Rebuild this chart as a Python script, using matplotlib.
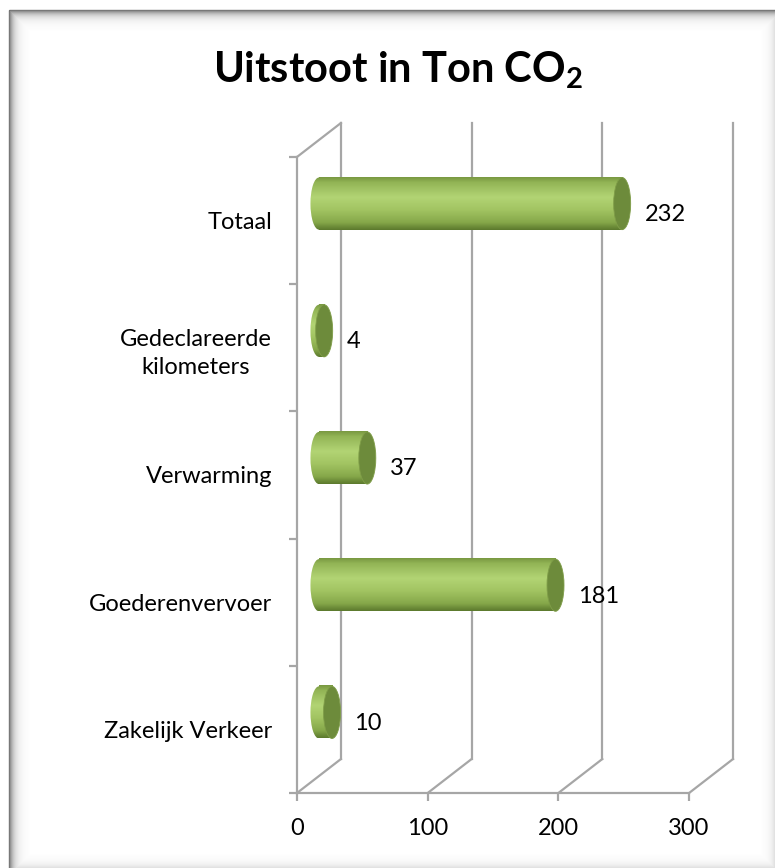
import matplotlib
matplotlib.use("Agg")
import matplotlib.pyplot as plt
import numpy as np
from matplotlib.patches import Ellipse, Rectangle
from matplotlib.colors import to_rgb

plt.rcParams['font.family'] = ['Lato', 'DejaVu Sans']
plt.rcParams['mathtext.default'] = 'regular'

# data
categories = ['Zakelijk Verkeer', 'Goederenvervoer', 'Verwarming',
              'Gedeclareerde\nkilometers', 'Totaal']
values = [10, 181, 37, 4, 232]
xticks = [0, 100, 200, 300]
title = 'Uitstoot in Ton CO$_2$'

# 3d look: depth offset of the back wall in data units
dx = 33.6
dy = 0.267
bar_half = 0.205
cap = 6.5
grid_col = '#a6a6a6'
fs = 17

fig = plt.figure(figsize=(7.75, 8.68), dpi=100)

# frame with inner shadow
bg = fig.add_axes([0, 0, 1, 1], zorder=0)
bg.set_xlim(0, 775)
bg.set_ylim(868, 0)
bg.axis('off')
for k in range(20):
    t = np.exp(-k / 4.5)
    g = 1 - 0.55 * t
    bg.add_patch(Rectangle((9 + k, 10 + k), 772 - 2 * k, 864 - 2 * k,
                           fill=False, edgecolor=(g, g, g), lw=1.0))

ax = fig.add_axes([297 / 775, 75 / 868, 436 / 775, 670 / 868], zorder=1)
ax.patch.set_alpha(0)
for s in ax.spines.values():
    s.set_visible(False)

ytop = 4.5
ybot = -0.5
lkw = dict(color=grid_col, lw=1.6, clip_on=False, zorder=1)
# front left axis + diagonals
ax.plot([0, 0], [ybot, ytop], **lkw)
ax.plot([0, dx], [ytop, ytop + dy], **lkw)
ax.plot([0, xticks[-1]], [ybot, ybot], **lkw)
for v in xticks:
    ax.plot([v, v + dx], [ybot, ybot + dy], **lkw)
    ax.plot([v + dx, v + dx], [ybot + dy, ytop + dy], **lkw)


def ramp(stops, n=64):
    pos = [p for p, c in stops]
    cols = np.array([to_rgb(c) for p, c in stops])
    t = np.linspace(0, 1, n)
    out = np.stack([np.interp(t, pos, cols[:, i]) for i in range(3)], axis=-1)
    return out.reshape(n, 1, 3)


body = ramp([(0.0, '#7a9a42'), (0.1, '#93b556'), (0.38, '#b2d474'),
             (0.62, '#a2c462'), (0.86, '#86a84a'), (1.0, '#5d7a2e')])

for i, v in enumerate(values):
    yc = i + dy / 2
    x0 = dx / 2
    x1 = x0 + v
    y0, y1 = yc - bar_half, yc + bar_half
    # left rounded end
    im = ax.imshow(body, extent=[x0 - cap, x0 + 0.01, y0, y1], aspect='auto',
                   origin='upper', zorder=3, interpolation='bilinear')
    el = Ellipse((x0, yc), 2 * cap, 2 * bar_half, transform=ax.transData)
    im.set_clip_path(el)
    # body
    ax.imshow(body, extent=[x0, x1, y0, y1], aspect='auto', origin='upper',
              zorder=3, interpolation='bilinear')
    # right cap
    ax.add_patch(Ellipse((x1, yc), 2 * cap, 2 * bar_half, facecolor='#6d8b3b',
                         edgecolor='#7f9d48', lw=0.6, zorder=4))
    ax.text(x1 + 17, yc - 0.085, str(v), ha='left', va='center', fontsize=fs)

ax.set_xlim(0, xticks[-1] + dx)
ax.set_ylim(ybot, ytop + dy)

ax.set_xticks(xticks)
ax.tick_params(axis='x', direction='out', length=6, width=1.6,
               color=grid_col, pad=12, labelsize=fs)
ax.set_yticks(range(len(categories)), categories)
ax.set_yticks(np.arange(-0.5, len(categories)), minor=True)
ax.tick_params(axis='y', which='major', length=0, pad=18, labelsize=fs)
ax.tick_params(axis='y', which='minor', direction='out', length=6, width=1.6,
               color=grid_col)
for lbl in ax.get_yticklabels():
    lbl.set_multialignment('center')
    lbl.set_linespacing(1.45)

fig.text(0.514, 1 - 70 / 868, title, ha='center', va='center',
         fontsize=30, fontweight='bold')

fig.savefig('out.png', dpi=100, facecolor='white')
